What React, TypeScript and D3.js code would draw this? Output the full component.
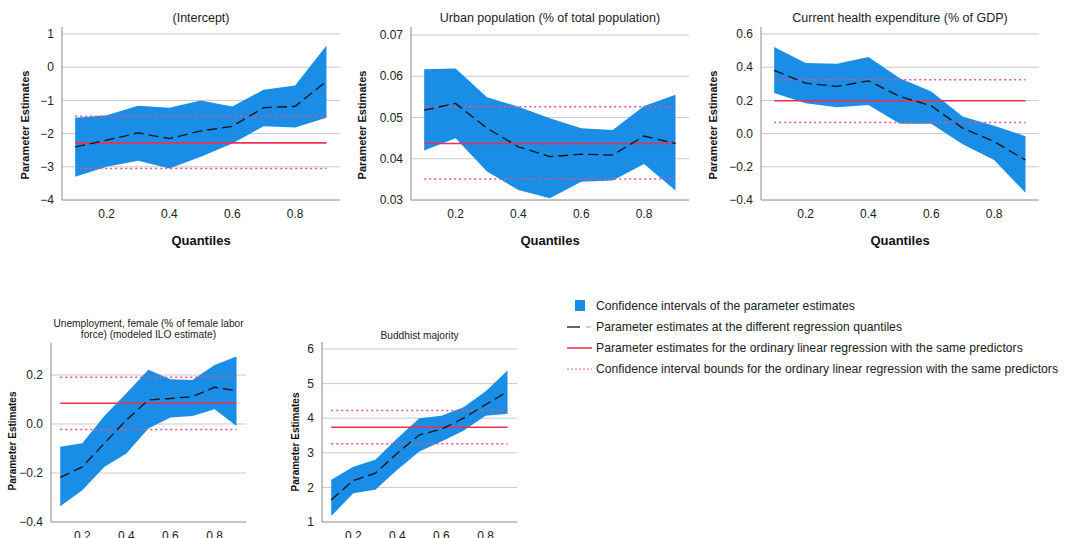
import React from "react";
import * as d3 from "d3";

const quantiles = [0.1, 0.2, 0.3, 0.4, 0.5, 0.6, 0.7, 0.8, 0.9];
const xTicks = [0.2, 0.4, 0.6, 0.8];

// (Intercept)
const interceptEst = [-2.4, -2.2, -1.98, -2.15, -1.92, -1.78, -1.22, -1.18, -0.42];
const interceptUpper = [-1.52, -1.45, -1.16, -1.22, -1.0, -1.18, -0.68, -0.55, 0.65];
const interceptLower = [-3.3, -3.0, -2.82, -3.05, -2.7, -2.3, -1.78, -1.82, -1.52];
const interceptOls = [-2.28, -3.05, -1.48];
const interceptTicks = [-4, -3, -2, -1, 0, 1];

// Urban population
const urbanEst = [0.0518, 0.0534, 0.0474, 0.0429, 0.0405, 0.0411, 0.0409, 0.0455, 0.0437];
const urbanUpper = [0.0617, 0.0619, 0.0549, 0.0526, 0.0498, 0.0474, 0.047, 0.0528, 0.0555];
const urbanLower = [0.042, 0.045, 0.0369, 0.0324, 0.0304, 0.0344, 0.0347, 0.0387, 0.0323];
const urbanOls = [0.0437, 0.0351, 0.0526];
const urbanTicks = [0.03, 0.04, 0.05, 0.06, 0.07];

// Current health expenditure
const healthEst = [0.381, 0.304, 0.284, 0.318, 0.224, 0.167, 0.033, -0.048, -0.159];
const healthUpper = [0.522, 0.425, 0.421, 0.461, 0.334, 0.254, 0.103, 0.047, -0.016];
const healthLower = [0.244, 0.183, 0.159, 0.173, 0.059, 0.059, -0.064, -0.159, -0.356];
const healthOls = [0.198, 0.067, 0.324];
const healthTicks = [-0.4, -0.2, 0.0, 0.2, 0.4, 0.6];

// Unemployment, female
const unempEst = [-0.218, -0.175, -0.079, 0.016, 0.098, 0.104, 0.112, 0.15, 0.136];
const unempUpper = [-0.093, -0.079, 0.033, 0.126, 0.221, 0.183, 0.18, 0.241, 0.276];
const unempLower = [-0.336, -0.27, -0.175, -0.12, -0.018, 0.027, 0.033, 0.06, -0.008];
const unempOls = [0.085, -0.022, 0.191];
const unempTicks = [-0.4, -0.2, 0.0, 0.2];

// Buddhist majority
const buddhEst = [1.64, 2.2, 2.41, 2.99, 3.52, 3.68, 4.0, 4.39, 4.77];
const buddhUpper = [2.22, 2.6, 2.8, 3.42, 4.0, 4.07, 4.32, 4.77, 5.38];
const buddhLower = [1.17, 1.83, 1.93, 2.51, 3.04, 3.33, 3.64, 4.07, 4.13];
const buddhOls = [3.74, 3.26, 4.22];
const buddhTicks = [1, 2, 3, 4, 5, 6];

const legendItems = [
  "Confidence intervals of the parameter estimates",
  "Parameter estimates at the different regression quantiles",
  "Parameter estimates for the ordinary linear regression with the same predictors",
  "Confidence interval bounds for the ordinary linear regression with the same predictors",
];

const BLUE = "#1a8ee6";
const RED = "#ec3050";
const PINK = "#f0507e";
const GRID = "#c9c9c9";
const AXIS = "#8a8a8a";
const FONT = "Liberation Sans, Arial, sans-serif";

type PanelProps = {
  title: string[];
  est: number[];
  upper: number[];
  lower: number[];
  ols: number[];
  ticks: number[];
  fmt: (v: number) => string;
  left: number;
  right: number;
  top: number;
  bottom: number;
  tickTop: number;
  titleY: number;
  titleSize: number;
  yLabelX: number;
  yLabelY: number;
  yLabelSize: number;
  showXLabel: boolean;
};

function Panel(p: PanelProps) {
  const x = d3.scaleLinear().domain([0.058, 0.943]).range([p.left, p.right]);
  const yMin = p.ticks[0];
  const yMax = p.ticks[p.ticks.length - 1];
  const y = d3.scaleLinear().domain([yMin, yMax]).range([p.bottom, p.tickTop]);
  const band = d3
    .area<number>()
    .x((_, i) => x(quantiles[i]))
    .y0((_, i) => y(p.lower[i]))
    .y1((_, i) => y(p.upper[i]));
  const line = d3
    .line<number>()
    .x((_, i) => x(quantiles[i]))
    .y((d) => y(d));
  const x0 = x(quantiles[0]);
  const x1 = x(quantiles[quantiles.length - 1]);
  const cx = (p.left + p.right) / 2;
  return (
    <g fontFamily={FONT}>
      {p.title.map((t, i) => (
        <text key={i} x={cx} y={p.titleY + i * 11.5} textAnchor="middle" fontSize={p.titleSize} fill="#222" dy="0.35em">
          {t}
        </text>
      ))}
      {p.ticks.slice(1).map((t) => (
        <line key={t} x1={p.left} x2={p.right} y1={y(t)} y2={y(t)} stroke={GRID} strokeWidth={1} />
      ))}
      <path d={band(p.est) || ""} fill={BLUE} />
      <line x1={x0} x2={x1} y1={y(p.ols[1])} y2={y(p.ols[1])} stroke={PINK} strokeWidth={1.5} strokeDasharray="2,3" />
      <line x1={x0} x2={x1} y1={y(p.ols[2])} y2={y(p.ols[2])} stroke={PINK} strokeWidth={1.5} strokeDasharray="2,3" />
      <line x1={x0} x2={x1} y1={y(p.ols[0])} y2={y(p.ols[0])} stroke={RED} strokeWidth={1.6} />
      <path d={line(p.est) || ""} fill="none" stroke="#111" strokeWidth={1.3} strokeDasharray="10,5" />
      <line x1={p.left} x2={p.left} y1={p.top} y2={p.bottom} stroke={AXIS} strokeWidth={1} />
      <line x1={p.left} x2={p.right} y1={p.bottom} y2={p.bottom} stroke={AXIS} strokeWidth={1} />
      {p.ticks.map((t) => (
        <text key={t} x={p.left - 8} y={y(t)} dy="0.35em" textAnchor="end" fontSize={12} fill="#222">
          {p.fmt(t)}
        </text>
      ))}
      {xTicks.map((t) => (
        <text key={t} x={x(t)} y={p.bottom + 13.5} dy="0.35em" textAnchor="middle" fontSize={12} fill="#222">
          {d3.format(".1f")(t)}
        </text>
      ))}
      <text
        transform={`translate(${p.yLabelX},${p.yLabelY}) rotate(-90)`}
        textAnchor="middle"
        dy="0.35em"
        fontSize={p.yLabelSize}
        fontWeight="bold"
        fill="#111"
      >
        Parameter Estimates
      </text>
      {p.showXLabel && (
        <text x={cx} y={p.bottom + 40} dy="0.35em" textAnchor="middle" fontSize={13} fontWeight="bold" fill="#111">
          Quantiles
        </text>
      )}
    </g>
  );
}

export default function App() {
  const f0 = (v: number) => d3.format("d")(v);
  const f1 = (v: number) => d3.format(".1f")(v);
  const f2 = (v: number) => d3.format(".2f")(v);
  const legendY = [306, 327, 348, 369];
  return (
    <svg width={1073} height={538} style={{ position: "absolute", left: 0, top: 0, background: "#fff" }}>
      <rect width={1073} height={538} fill="#fff" />
      <Panel
        title={["(Intercept)"]}
        est={interceptEst}
        upper={interceptUpper}
        lower={interceptLower}
        ols={interceptOls}
        ticks={interceptTicks}
        fmt={f0}
        left={62}
        right={340}
        top={27}
        bottom={200}
        tickTop={34}
        titleY={18}
        titleSize={12.5}
        yLabelX={25}
        yLabelY={125}
        yLabelSize={11}
        showXLabel={true}
      />
      <Panel
        title={["Urban population (% of total population)"]}
        est={urbanEst}
        upper={urbanUpper}
        lower={urbanLower}
        ols={urbanOls}
        ticks={urbanTicks}
        fmt={f2}
        left={411}
        right={689}
        top={27}
        bottom={200}
        tickTop={35}
        titleY={18}
        titleSize={12.5}
        yLabelX={362}
        yLabelY={125}
        yLabelSize={11}
        showXLabel={true}
      />
      <Panel
        title={["Current health expenditure (% of GDP)"]}
        est={healthEst}
        upper={healthUpper}
        lower={healthLower}
        ols={healthOls}
        ticks={healthTicks}
        fmt={f1}
        left={761}
        right={1039}
        top={27}
        bottom={200}
        tickTop={34}
        titleY={18}
        titleSize={12.5}
        yLabelX={713}
        yLabelY={125}
        yLabelSize={11}
        showXLabel={true}
      />
      <Panel
        title={["Unemployment, female (% of female labor", "force) (modeled ILO estimate)"]}
        est={unempEst}
        upper={unempUpper}
        lower={unempLower}
        ols={unempOls}
        ticks={unempTicks}
        fmt={f1}
        left={51}
        right={246}
        top={343}
        bottom={522}
        tickTop={375}
        titleY={323}
        titleSize={10.2}
        yLabelX={12}
        yLabelY={441}
        yLabelSize={10}
        showXLabel={false}
      />
      <Panel
        title={["Buddhist majority"]}
        est={buddhEst}
        upper={buddhUpper}
        lower={buddhLower}
        ols={buddhOls}
        ticks={buddhTicks}
        fmt={f0}
        left={322}
        right={517}
        top={342}
        bottom={522}
        tickTop={349}
        titleY={335}
        titleSize={10.2}
        yLabelX={295}
        yLabelY={442}
        yLabelSize={10}
        showXLabel={false}
      />
      <g fontFamily={FONT} fontSize={12.2} fill="#222">
        <rect x={575} y={legendY[0] - 6} width={10} height={11} fill={BLUE} />
        <line x1={567} x2={580} y1={legendY[1]} y2={legendY[1]} stroke="#111" strokeWidth={1.3} />
        <line x1={586} x2={591} y1={legendY[1]} y2={legendY[1]} stroke="#999" strokeWidth={1} />
        <line x1={567} x2={592} y1={legendY[2]} y2={legendY[2]} stroke={RED} strokeWidth={1.6} />
        <line x1={567} x2={592} y1={legendY[3]} y2={legendY[3]} stroke={PINK} strokeWidth={1} strokeDasharray="2,2" />
        {legendItems.map((t, i) => (
          <text key={i} x={596} y={legendY[i]} dy="0.35em">
            {t}
          </text>
        ))}
      </g>
    </svg>
  );
}
